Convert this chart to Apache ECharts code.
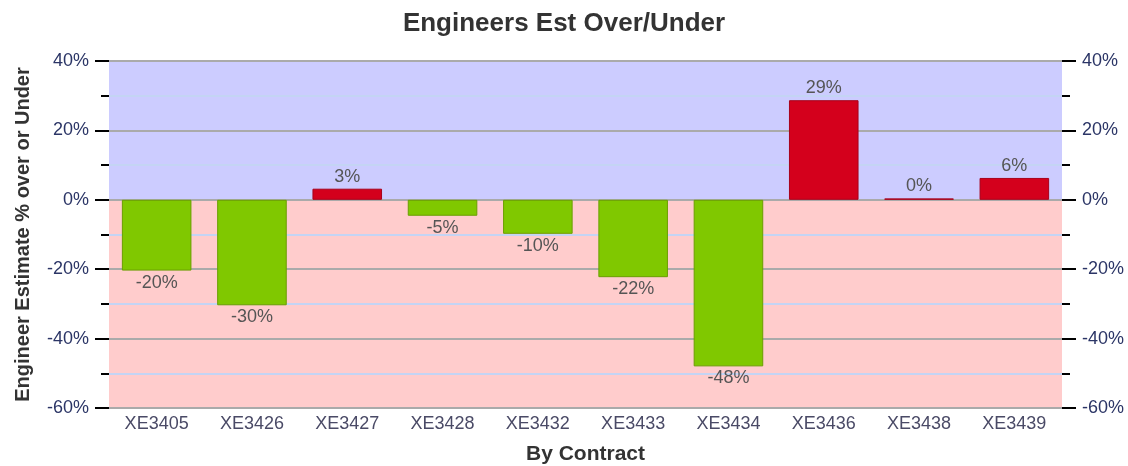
<!DOCTYPE html>
<html>
<head>
<meta charset="utf-8">
<script src="https://cdn.jsdelivr.net/npm/echarts@6/dist/echarts.min.js"></script>
<style>
  html, body { margin: 0; padding: 0; background: #fff; }
  #main { width: 1128px; height: 466px; }
</style>
</head>
<body>
<div id="main"></div>
<script>
var contracts = ['XE3405', 'XE3426', 'XE3427', 'XE3428', 'XE3432', 'XE3433', 'XE3434', 'XE3436', 'XE3438', 'XE3439'];
var overUnder = [-20.4, -30.4, 3.2, -4.6, -9.8, -22.3, -48.0, 28.7, 0.4, 6.3];
var yMin = -60, yMax = 40, yStep = 20;

var myChart = echarts.init(document.getElementById('main'));

function pctAxis(pos) {
  return {
    type: 'value',
    position: pos,
    min: yMin,
    max: yMax,
    interval: yStep,
    z: 3,
    axisLine: { show: false },
    axisTick: { show: true, length: 14, lineStyle: { color: '#000', width: 2 } },
    minorTick: { show: true, splitNumber: 2, length: 8, lineStyle: { color: '#000', width: 2 } },
    splitLine: { show: pos === 'left', lineStyle: { color: '#aaaaaa', width: 2 } },
    minorSplitLine: { show: pos === 'left', lineStyle: { color: '#c4d4f4', width: 2 } },
    axisLabel: {
      margin: 20,
      color: '#2b3566',
      fontSize: 18,
      fontFamily: 'Liberation Sans',
      formatter: '{value}%'
    }
  };
}

var left = pctAxis('left');
left.name = 'Engineer Estimate % over or Under';
left.nameLocation = 'middle';
left.nameGap = 76;
left.nameTextStyle = { fontSize: 20, fontWeight: 'bold', color: '#333', fontFamily: 'Liberation Sans' };

var option = {
  backgroundColor: '#fff',
  title: {
    text: 'Engineers Est Over/Under',
    left: 'center',
    top: 6,
    textStyle: { fontSize: 26, fontWeight: 'bold', color: '#333', fontFamily: 'Liberation Sans' }
  },
  grid: { left: 109, right: 66, top: 61, bottom: 58, containLabel: false, outerBoundsMode: 'none' },
  xAxis: {
    type: 'category',
    data: contracts,
    name: 'By Contract',
    nameLocation: 'middle',
    nameGap: 36,
    nameTextStyle: { fontSize: 21, fontWeight: 'bold', color: '#333', fontFamily: 'Liberation Sans' },
    axisLine: { show: false },
    axisTick: { show: false },
    axisLabel: { margin: 7, color: '#4a4a66', fontSize: 18, fontFamily: 'Liberation Sans' }
  },
  yAxis: [left, pctAxis('right')],
  series: [
    {
      // band behind the plot: over (blue) / under (pink)
      type: 'line',
      data: [],
      z: 1,
      silent: true,
      markArea: {
        silent: true,
        data: [
          [{ yAxis: 0, itemStyle: { color: '#ccccff' } }, { yAxis: yMax }],
          [{ yAxis: yMin, itemStyle: { color: '#ffcccc' } }, { yAxis: 0 }]
        ]
      }
    },
    {
      type: 'bar',
      z: 5,
      barWidth: '73%',
      data: overUnder.map(function (v) {
        return {
          value: v,
          itemStyle: v >= 0
            ? { color: '#d4001c', borderColor: '#a8001a', borderWidth: 1 }
            : { color: '#80c800', borderColor: '#6a9e00', borderWidth: 1 },
          label: { position: v >= 0 ? 'top' : 'bottom' }
        };
      }),
      label: {
        show: true,
        distance: 3,
        color: '#555',
        fontSize: 18,
        fontFamily: 'Liberation Sans',
        formatter: function (p) { return Math.round(p.value) + '%'; }
      }
    }
  ]
};

myChart.setOption(option);
</script>
</body>
</html>
